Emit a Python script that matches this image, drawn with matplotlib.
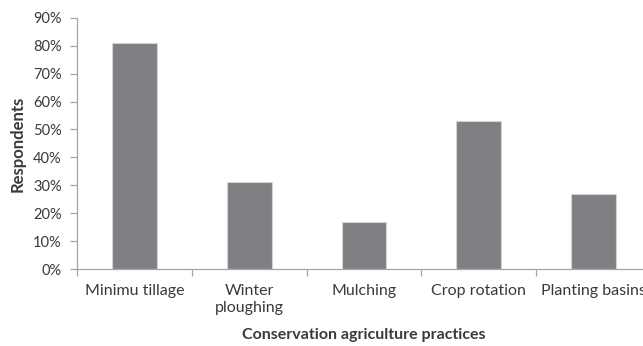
import matplotlib
matplotlib.use("Agg")
import numpy as np
import matplotlib.pyplot as plt
from matplotlib.ticker import FixedLocator, PercentFormatter

PRACTICES = ["Minimu tillage", "Winter\nploughing", "Mulching", "Crop rotation", "Planting basins"]
RESPONDENTS = [81, 31, 17, 53, 27]  # percent of respondents
Y_TICKS = [0, 10, 20, 30, 40, 50, 60, 70, 80, 90]

TEXT_COLOR = "#3a3a3a"
AXIS_COLOR = "#a6a6a6"
BAR_COLOR = "#7f8083"

plt.rcParams["font.family"] = ["Lato", "DejaVu Sans"]


def create_plot():
    fig = plt.figure(figsize=(6.43, 3.46), dpi=100)
    ax = fig.add_axes([0.1198, 0.2225, 0.8926, 0.7261])

    x = np.arange(len(PRACTICES))
    ax.bar(x, RESPONDENTS, width=0.39, color=BAR_COLOR, edgecolor="#d4d4d4", linewidth=0.8, zorder=2)

    ax.set_xlim(-0.5, len(PRACTICES) - 0.5)
    ax.set_ylim(0, 90)

    ax.yaxis.set_major_locator(FixedLocator(Y_TICKS))
    ax.yaxis.set_major_formatter(PercentFormatter(decimals=0))

    # labels sit at category centres, tick marks at the boundaries
    ax.set_xticks(x)
    ax.set_xticklabels(PRACTICES, linespacing=1.25)
    ax.xaxis.set_minor_locator(FixedLocator(np.arange(len(PRACTICES) + 1) - 0.5))
    ax.tick_params(axis="x", which="major", length=0, pad=11, labelsize=11.5, labelcolor=TEXT_COLOR)
    ax.tick_params(axis="x", which="minor", length=5, width=0.9, color=AXIS_COLOR, direction="out")
    ax.tick_params(axis="y", length=5, width=0.9, color=AXIS_COLOR, pad=6, labelsize=10.5, labelcolor=TEXT_COLOR)

    for side in ["top", "right"]:
        ax.spines[side].set_visible(False)
    for side in ["left", "bottom"]:
        ax.spines[side].set_color(AXIS_COLOR)
        ax.spines[side].set_linewidth(0.9)

    ax.set_xlabel("Conservation agriculture practices", fontsize=11.5, fontweight="bold", color=TEXT_COLOR, labelpad=9)
    ax.set_ylabel("Respondents", fontsize=12, fontweight="bold", color=TEXT_COLOR, labelpad=5)

    return fig, ax


def main():
    fig, ax = create_plot()
    fig.savefig("out.png", dpi=100)


if __name__ == "__main__":
    main()
